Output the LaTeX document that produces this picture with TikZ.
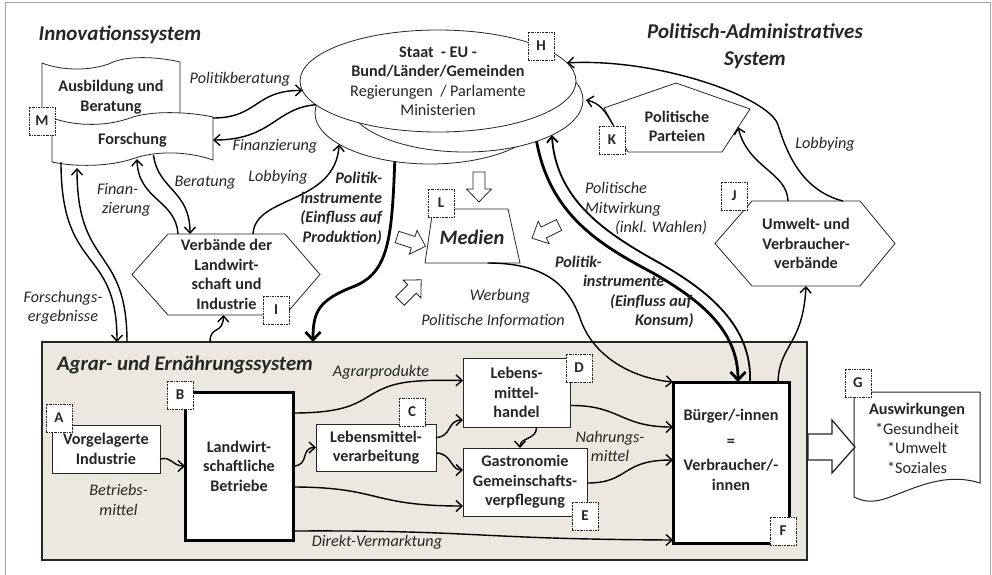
\documentclass[tikz,border=0pt]{standalone}
\usepackage{fontspec}
\setmainfont{Carlito}
\usetikzlibrary{arrows.meta,shapes.geometric}
\definecolor{agrarbg}{RGB}{236,232,223}
\definecolor{ink}{RGB}{38,38,38}
\begin{document}
\begin{tikzpicture}[x=1pt,y=-1pt,
  every node/.style={outer sep=0pt},
  base/.style={font=\fontsize{16.2}{19.5}\selectfont, text=ink, align=center, inner sep=0pt},
  bt/.style={base, font=\fontsize{16.2}{19.5}\selectfont\bfseries},
  it/.style={base, font=\fontsize{16.2}{19.5}\selectfont\itshape},
  bit/.style={base, font=\fontsize{16.2}{19.5}\selectfont\bfseries\itshape},
  ttl/.style={base, font=\fontsize{21}{27}\selectfont\bfseries\itshape},
  lab/.style={draw=ink, line width=0.7pt, dash pattern=on 2pt off 1pt on 0.6pt off 1pt, fill=white, minimum width=26pt, minimum height=28pt, inner sep=0pt, font=\fontsize{15}{15}\selectfont\bfseries, text=ink},
  shp/.style={draw=ink, line width=0.8pt, fill=white},
  box/.style={bt, draw=ink, line width=1pt, fill=white},
  heavy/.style={bt, draw=black, line width=3pt, fill=white},
  conn/.style={draw=black, line width=1.4pt, -{Straight Barb[length=6pt,width=11pt]}},
  thk/.style={draw=black, line width=2.8pt, -{Straight Barb[length=8pt,width=15pt]}},
  pics/barrow/.style={code={\draw[shp] (0,-6) -- (17,-6) -- (17,-12.5) -- (30,0) -- (17,12.5) -- (17,6) -- (0,6) -- cycle;}}
]
\useasboundingbox (0,0) rectangle (992,574);
% frame
\draw[gray!70, line width=1pt] (5,580) -- (5,2) -- (990,2) -- (990,580);

% Agrar system box
\node[draw=black!85, line width=2.5pt, fill=agrarbg, minimum width=765pt, minimum height=218pt] (agrar) at (424.5,451) {};
\node[ttl, font=\fontsize{20.8}{24}\selectfont\bfseries\itshape] (tagr) at (185,365) {Agrar- und Ernährungssystem};

% titles
\node[ttl] (tinno) at (120,35) {Innovationssystem};
\node[ttl] (tpol) at (755,46.5) {Politisch-Administratives\\System};

% tapes (M)
\draw[shp] (42,63) .. controls (62,71) and (92,71) .. (111,63) .. controls (125,56) and (155,56) .. (180,62) -- (180,125) -- (42,125) -- cycle;
\node[bt, minimum width=138pt, minimum height=68pt] (ausb) at (111,97) {Ausbildung und\\Beratung};
\draw[shp] (52,118) .. controls (78,127) and (108,126) .. (130,118) .. controls (152,110) and (190,112) .. (213,117) -- (213,160) .. controls (190,152) and (160,150) .. (135,158) .. controls (110,167) and (75,167) .. (52,162) -- cycle;
\node[bt, minimum width=161pt, minimum height=44pt] (forsch) at (132.5,140) {Forschung};

% ellipses (H)
\node[shp, ellipse, minimum width=230pt, minimum height=102pt, inner sep=0pt] (ellBL) at (430,113) {};
\node[shp, ellipse, minimum width=236pt, minimum height=104pt, inner sep=0pt] (ellBR) at (465,100) {};
\node[shp, ellipse, minimum width=276pt, minimum height=102pt, inner sep=0pt, base] (ellF) at (438,81) {\textbf{Staat~~- EU -}\\\textbf{Bund/Länder/Gemeinden}\\Regierungen~~/ Parlamente\\Ministerien};

% Verbaende hexagon (I)
\node[bt, minimum width=117pt, minimum height=81pt] (verb) at (226.5,274.5) {Verbände der\\Landwirt-\\schaft und\\Industrie};
\draw[shp, fill=none] (verb.north west) -- (verb.north east) -- ([xshift=35pt]verb.east) -- (verb.south east) -- (verb.south west) -- ([xshift=-36pt]verb.west) -- cycle;

% Umwelt hexagon (J)
\draw[shp] (752,201) -- (860,201) -- (895,243.5) -- (860,286) -- (752,286) -- (715,243.5) -- cycle;
\node[bt, minimum width=108pt, minimum height=85pt] (umwelt) at (806,243.5) {Umwelt- und\\Verbraucher-\\verbände};

% Parteien pentagon (K)
\draw[shp] (676,83) -- (750,109) -- (722,152) -- (628,152) -- (604,108) -- cycle;
\node[bt] (parteien) at (677,126.5) {Politische\\Parteien};
\coordinate (Kleft) at (613,125);
\coordinate (Kright) at (738,127);

% Medien trapezoid (L)
\node[minimum width=95pt, minimum height=54pt, inner sep=0pt] (medien) at (472.5,236) {};
\draw[shp] ([xshift=8pt]medien.north west) -- ([xshift=-12pt]medien.north east) -- (medien.south east) -- (medien.south west) -- cycle;
\node[base, font=\fontsize{20.5}{24}\selectfont\bfseries\itshape] (medientxt) at (472,237) {Medien};

% inner boxes
\node[box, minimum width=108pt, minimum height=48pt] (vorg) at (106,449) {Vorgelagerte\\Industrie};
\node[heavy, minimum width=108pt, minimum height=148pt] (landw) at (239,466) {Landwirt-\\schaftliche\\Betriebe};
\node[box, minimum width=120pt, minimum height=47pt] (verarb) at (376,447.5) {Lebensmittel-\\verarbeitung};
\node[box, minimum width=107pt, minimum height=69pt] (handel) at (516.5,392.5) {Lebens-\\mittel-\\handel};
\node[box, minimum width=124pt, minimum height=68pt] (gastro) at (525,482) {Gastronomie\\Gemeinschafts-\\verpflegung};
\node[heavy, minimum width=116pt, minimum height=161pt] (burger) at (731,462.5) {};
\node[bt] (burgertxt) at (731,450) {Bürger/-innen\\[6pt]=\\[5pt]Verbraucher/-\\innen};

% Auswirkungen document (G)
\draw[shp, line width=1pt] (854,392) -- (980,392) -- (980,483) .. controls (945,472) and (915,488) .. (890,497) .. controls (872,504) and (862,501) .. (854,497) -- cycle;
\node[base] (ausw) at (917,438.5) {\textbf{Auswirkungen}\\{*}Gesundheit\\{*}Umwelt\\{*}Soziales};

% big block arrow F -> G
\draw[shp, line width=1.3pt] (808,434) -- (832,434) -- (832,420) -- (855,447) -- (832,473) -- (832,460) -- (808,460) -- cycle;

% small block arrows to Medien
\pic[rotate=-90] at (479,172) {barrow};
\pic[rotate=-18] at (397,237) {barrow};
\pic[rotate=45] at (400,301) {barrow};
\pic[rotate=-154] at (559,225) {barrow};

% connectors upper area
\draw[conn] (forsch.north east) .. controls (258,118) and (255,90) .. (ellF.184);
\draw[conn] (ellF.191) .. controls (275,108) and (272,140) .. (forsch.east);
\draw[conn] ([xshift=21pt,yshift=7pt]forsch.south) .. controls (158,190) and (190,190) .. ([xshift=22pt]verb.north west);
\draw[conn] ([xshift=10pt]verb.north west) .. controls (176,200) and (138,200) .. ([xshift=4.5pt,yshift=3pt]forsch.south);
\draw[conn] ([xshift=85pt]verb.north west) .. controls (255,195) and (335,205) .. (ellBL.199);
\draw[conn] ([xshift=9pt]forsch.south west) .. controls (61,275) and (117,245) .. ([xshift=75pt]agrar.north west);
\draw[conn] ([xshift=85pt]agrar.north west) .. controls (127,245) and (77,270) .. ([xshift=25pt,yshift=-6pt]forsch.south west);
\draw[conn] ([xshift=168pt]agrar.north west) .. controls (210,325) and (223,335) .. ([xshift=-3pt]verb.south);
\draw[thk] (ellBL.234) .. controls (392,240) and (388,272) .. (355,286) .. controls (318,300) and (313,312) .. ([xshift=271pt]agrar.north west);
\draw[conn] ([xshift=15pt]medien.south) .. controls (545,263) and (568,285) .. (580,318) .. controls (592,355) and (630,378) .. (burger.north west);
\draw[thk] (ellBR.330) .. controls (550,215) and (600,245) .. (653,273) .. controls (700,300) and (738,330) .. ([xshift=7pt]burger.north);
\draw[conn, line width=1.8pt] ([xshift=19pt]burger.north) .. controls (752,330) and (715,295) .. (663,265) .. controls (615,238) and (556,205) .. (ellBR.338);
\draw[conn] ([xshift=47pt]burger.north) .. controls (779,345) and (803,345) .. (umwelt.south);
\draw[conn] ([xshift=36pt]umwelt.north west) .. controls (787,172) and (748,168) .. (Kright);
\draw[conn] ([xshift=91pt]umwelt.north west) .. controls (800,190) and (786,150) .. (778,125) .. controls (770,98) and (660,58) .. (ellF.8);
\draw[conn] (Kleft) .. controls (606,112) and (600,103) .. ([xshift=3pt]ellBR.east);

% connectors in Agrar system
\draw[conn] ([yshift=-10pt]vorg.east) .. controls (172,456) and (172,466) .. (landw.west);
\draw[conn] ([yshift=-21pt]landw.north east) .. controls (360,413) and (360,397) .. (387,387) .. controls (405,380) and (430,380) .. ([yshift=12pt]handel.west);
\draw[conn] (landw.east) .. controls (310,466) and (300,447.5) .. (verarb.west);
\draw[conn] ([yshift=-21pt]landw.east) .. controls (380,487) and (370,506) .. ([yshift=-24pt]gastro.west);
\draw[conn] ([yshift=9pt]landw.south east) .. controls (480,530) and (470,539) .. ([yshift=3pt]burger.south west);
\draw[conn] ([yshift=10pt]verarb.east) .. controls (452,437) and (447,420) .. ([yshift=-27.5pt]handel.west);
\draw[conn] ([yshift=-5.5pt]verarb.east) .. controls (452,453) and (450,470) .. ([yshift=12pt]gastro.west);
\draw[conn] ([xshift=20pt]handel.south) .. controls (537,440) and (520,437) .. ([xshift=-5pt]gastro.north);
\draw[conn] ([yshift=-13pt]handel.east) .. controls (620,405) and (620,427) .. ([yshift=35.5pt]burger.west);
\draw[conn] ([yshift=-1pt]gastro.east) .. controls (630,483) and (620,460) .. ([yshift=2.5pt]burger.west);

% connector labels
\node[it] (lpb) at (240,79) {Politikberatung};
\node[it] (lfin) at (275,146) {Finanzierung};
\node[it] (lber) at (205,183) {Beratung};
\node[it, align=left, anchor=west] (lfin2) at (97,200) {Finan-\\\hspace*{5pt}zierung};
\node[it] (llob) at (278,177) {Lobbying};
\node[it] (lfe) at (63,308) {Forschungs-\\ergebnisse};
\node[bit, align=right, anchor=east] (lpip) at (382,208.5) {Politik-\\instrumente\\(Einfluss auf\\Produktion)};
\node[it] (lwer) at (500,296) {Werbung};
\node[it] (lpi) at (493,321) {Politische Information};
\node[it, align=left, anchor=west] (lpmw) at (585,208.5) {Politische\\Mitwirkung\\\hspace*{30pt}(inkl. Wahlen)};
\node[bit, align=left, anchor=west] (lpik) at (555,292) {Politik-\\\hspace*{28pt}instrumente\\\hspace*{55pt}(Einfluss auf\\\hspace*{80pt}Konsum)};
\node[it] (llob2) at (825,144) {Lobbying};
\node[it] (lagr) at (381,372) {Agrarprodukte};
\node[it] (lbm) at (118.5,500) {Betriebs-\\mittel};
\node[it] (lnm) at (610,446.5) {Nahrungs-\\mittel};
\node[it] (ldv) at (377,542) {Direkt-Vermarktung};

% letter tags
\node[lab] (tagH) at (541,46) {H};
\node[lab] (tagM) at (42,121) {M};
\node[lab] (tagI) at (276,310) {I};
\node[lab] (tagL) at (441,203) {L};
\node[lab] (tagK) at (612,140) {K};
\node[lab] (tagJ) at (734,196) {J};
\node[lab] (tagA) at (59,418) {A};
\node[lab] (tagB) at (180,395) {B};
\node[lab] (tagC) at (412,412) {C};
\node[lab] (tagD) at (579,368) {D};
\node[lab] (tagE) at (585,516) {E};
\node[lab] (tagF) at (783,531) {F};
\node[lab] (tagG) at (858,383) {G};
\end{tikzpicture}
\end{document}
